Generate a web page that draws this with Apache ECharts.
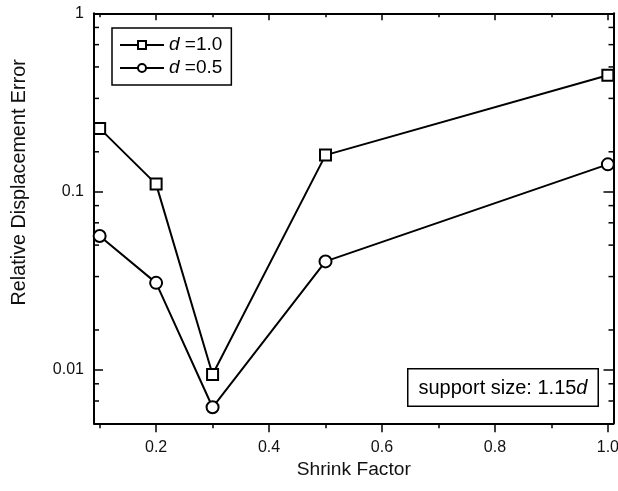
<!DOCTYPE html>
<html>
<head>
<meta charset="utf-8">
<script src="https://cdn.jsdelivr.net/npm/echarts@6/dist/echarts.min.js"></script>
<style>
  html, body { margin: 0; padding: 0; background: #fff; }
  #chart { width: 618px; height: 491px; }
</style>
</head>
<body>
<div id="chart"></div>
<script>
  // data
  const shrinkFactor = [0.1, 0.2, 0.3, 0.5, 1.0];
  const errD10 = [0.226, 0.110, 0.0094, 0.160, 0.449];
  const errD05 = [0.0563, 0.0307, 0.00615, 0.0405, 0.142];

  // axis ticks
  const xMajorTicks = [0.2, 0.4, 0.6, 0.8, 1.0];
  const xMinorTicks = [0.1, 0.3, 0.5, 0.7, 0.9];
  const yMinorTicks = [0.00667, 0.00833, 0.0167, 0.0333, 0.05, 0.0667, 0.0833,
                       0.167, 0.333, 0.5, 0.667, 0.833];

  const xMin = 0.09, xMax = 1.01, yMin = 0.005, yMax = 1;
  const font = 'Liberation Sans';

  let chart = echarts.init(document.getElementById('chart'));

  const lineBlack = { color: '#000', width: 1.5 };

  function xAxisOf(position, ticks, len, inside, withLine) {
    return {
      type: 'value', min: xMin, max: xMax, position: position,
      axisLine: { show: withLine, onZero: false, lineStyle: { color: '#000', width: 2 } },
      axisTick: { show: true, inside: inside, length: len, customValues: ticks, lineStyle: lineBlack },
      axisLabel: { show: false },
      splitLine: { show: false }
    };
  }

  let xBottom = xAxisOf('bottom', xMajorTicks, 9, false, true);
  xBottom.axisLabel = {
    show: true, customValues: xMajorTicks, margin: 16,
    fontSize: 16, color: '#111', fontFamily: font,
    formatter: v => v.toFixed(1)
  };
  xBottom.name = 'Shrink Factor';
  xBottom.nameLocation = 'middle';
  xBottom.nameGap = 32;
  xBottom.nameTextStyle = { fontSize: 19.2, color: '#111', fontFamily: font };

  function yAxisOf(position, len) {
    return {
      type: 'log', logBase: 10, min: yMin, max: yMax, position: position,
      axisLine: { show: true, onZero: false, lineStyle: { color: '#000', width: 2 } },
      axisTick: { show: true, inside: true, length: len, lineStyle: lineBlack },
      axisLabel: { show: false },
      splitLine: { show: false },
      minorTick: { show: false }
    };
  }

  let yLeft = yAxisOf('left', 9);
  yLeft.axisLabel = {
    show: true, showMinLabel: false, margin: 10,
    fontSize: 16, color: '#111', fontFamily: font,
    formatter: v => String(parseFloat(v.toPrecision(6)))
  };
  yLeft.name = 'Relative Displacement Error';
  yLeft.nameLocation = 'middle';
  yLeft.nameRotate = 90;
  yLeft.nameGap = 64;
  yLeft.nameTextStyle = { fontSize: 19.8, color: '#111', fontFamily: font, padding: [0, 0, 0, 72] };

  const option = {
    backgroundColor: '#fff',
    animation: false,
    grid: { left: 94, right: 4.5, top: 13.3, bottom: 67.7, outerBoundsMode: 'none', containLabel: false },
    xAxis: [
      xBottom,
      xAxisOf('bottom', xMinorTicks, 5, false, false),
      xAxisOf('top', xMajorTicks, 7, true, true),
      xAxisOf('top', xMinorTicks, 4, true, false)
    ],
    yAxis: [yLeft, yAxisOf('right', 10)],
    legend: {
      data: ['d =1.0', 'd =0.5'],
      orient: 'vertical',
      left: 112, top: 28,
      itemWidth: 44, itemHeight: 10, itemGap: 1,
      padding: [6, 9, 6, 7],
      borderColor: '#000', borderWidth: 1.5,
      backgroundColor: '#fff',
      formatter: name => '{i|d}' + name.slice(1),
      textStyle: {
        fontSize: 19, color: '#000', fontFamily: font, lineHeight: 22,
        rich: { i: { fontSize: 19, fontStyle: 'italic', fontFamily: font, color: '#000' } }
      }
    },
    graphic: [{
      type: 'text', left: 407, top: 368, z: 10,
      style: {
        text: '{n|support size: 1.15}{i|d}',
        rich: {
          n: { fontSize: 20, fontFamily: font, fill: '#000' },
          i: { fontSize: 20, fontFamily: font, fontStyle: 'italic', fill: '#000' }
        },
        padding: [9, 10, 7, 10],
        borderColor: '#000', borderWidth: 1.5, backgroundColor: '#fff'
      }
    }],
    series: [
      {
        name: 'd =1.0', type: 'line',
        data: shrinkFactor.map((x, i) => [x, errD10[i]]),
        symbol: 'rect', symbolSize: 11,
        lineStyle: { color: '#000', width: 2 },
        itemStyle: { color: '#fff', borderColor: '#000', borderWidth: 2 },
        z: 4
      },
      {
        name: 'd =0.5', type: 'line',
        data: shrinkFactor.map((x, i) => [x, errD05[i]]),
        symbol: 'circle', symbolSize: 12,
        lineStyle: { color: '#000', width: 2 },
        itemStyle: { color: '#fff', borderColor: '#000', borderWidth: 2 },
        z: 4
      },
      {
        // minor ticks of the log axis, left and right
        type: 'custom', silent: true, clip: false, z: 3,
        data: yMinorTicks.map(v => [xMin, v]),
        encode: { x: 0, y: 1 },
        renderItem: function (params, api) {
          const l = api.coord([xMin, api.value(1)]);
          const r = api.coord([xMax, api.value(1)]);
          return {
            type: 'group',
            children: [
              { type: 'line', shape: { x1: l[0], y1: l[1], x2: l[0] + 5, y2: l[1] }, style: { stroke: '#000', lineWidth: 1.5 } },
              { type: 'line', shape: { x1: r[0], y1: r[1], x2: r[0] - 5, y2: r[1] }, style: { stroke: '#000', lineWidth: 1.5 } }
            ]
          };
        }
      }
    ]
  };

  chart.setOption(option);
</script>
</body>
</html>
